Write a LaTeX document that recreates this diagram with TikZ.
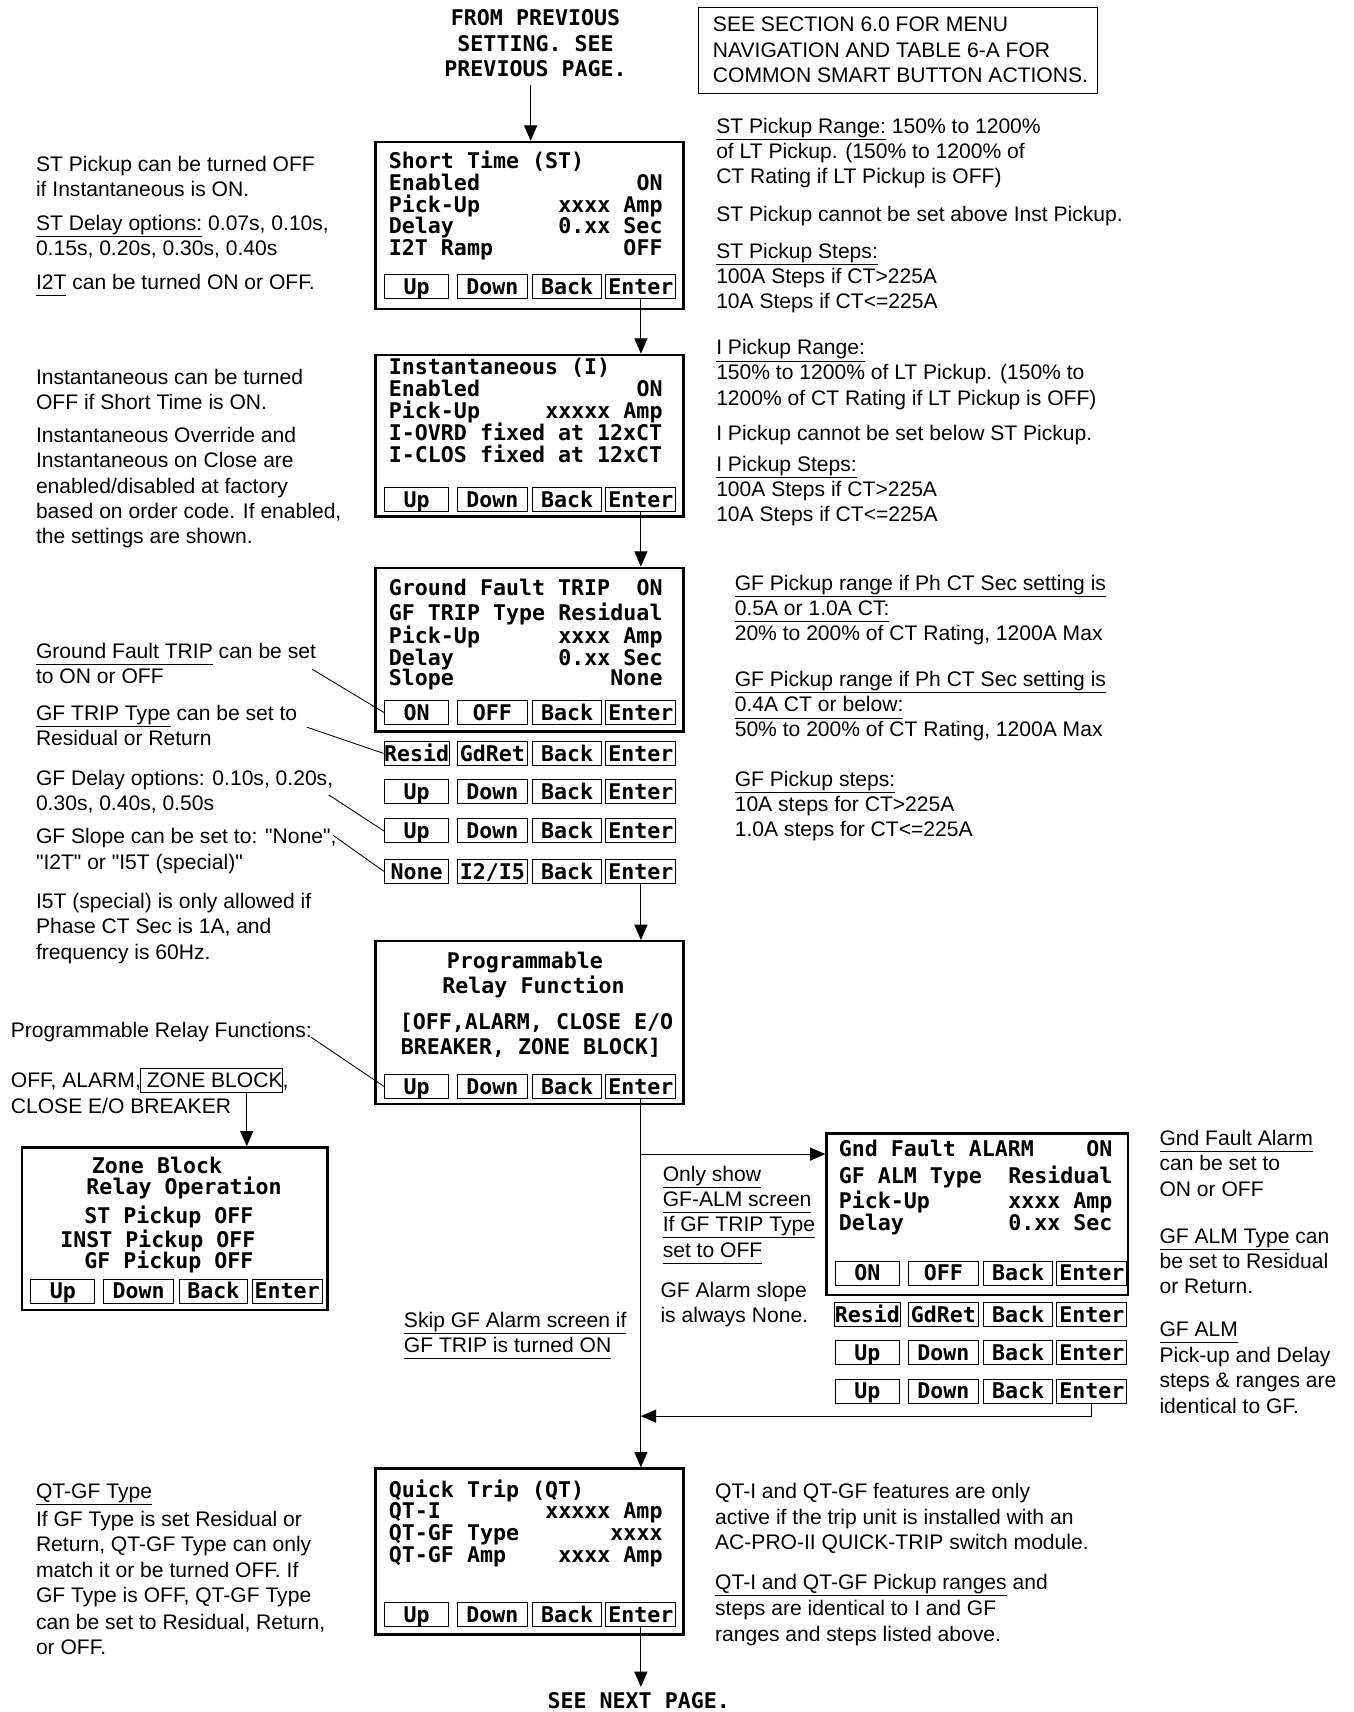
\documentclass[tikz,border=0pt]{standalone}
\usepackage{fontspec}
\newfontfamily\arial{Liberation Sans}
\newfontfamily\lcdf{DejaVu Sans Mono Bold}
\usetikzlibrary{arrows.meta}
\newcommand\undl[1]{\underline{#1\vphantom{gy}}}
\newcommand\tline[4]{\node[txt] (#1) at (#2,#3+7) {#4};}
\newcommand\lcl[4]{\node[lcdt,anchor=base west] (#1) at (#2,#3+7.2) {#4};}
\newcommand\lcr[4]{\node[lcdt,anchor=base east] (#1) at (#2,#3+7.2) {#4};}
\newcommand\btnrow[7]{%
 \node[btn,minimum width=59pt] (#1a) at (#2+37.5,#3) {#4};
 \node[btn,minimum width=64pt] (#1b) at (#2+107,#3) {#5};
 \node[btn,minimum width=63pt] (#1c) at (#2+175.5,#3) {#6};
 \node[btn,minimum width=64pt] (#1d) at (#2+243,#3) {#7};}
\tikzset{
 txt/.style={font=\arial\fontsize{19.3}{23.3}\selectfont, anchor=base west, inner sep=0pt, outer sep=0pt},
 lcdt/.style={font=\lcdf\fontsize{19.8}{23.5}\selectfont, inner sep=0pt},
 btn/.style={draw, line width=0.9pt, inner sep=0pt, minimum height=22pt, text height=15pt, text depth=0.6pt, font=\lcdf\fontsize{19.8}{23.5}\selectfont},
 scr/.style={draw, line width=2.2pt, inner sep=0pt},
 arr/.style={line width=1pt, -{Triangle[width=12pt,length=14pt]}},
 lead/.style={line width=0.8pt}
}
\begin{document}
\begin{tikzpicture}[x=1pt,y=-1pt]
\fill[white] (0,0) rectangle (1240,1568);
\useasboundingbox (0,0) rectangle (1240,1568);

% header
\node[lcdt,anchor=base] (fp1) at (490.5,23.2) {FROM PREVIOUS};
\node[lcdt,anchor=base] (fp2) at (490.5,47.2) {SETTING. SEE};
\node[lcdt,anchor=base] (fp3) at (490.5,70.2) {PREVIOUS PAGE.};
\node[draw,line width=0.8pt,minimum width=365pt,minimum height=79pt,inner sep=0pt] (see) at (822.5,46.5) {};
\tline{se1}{653}{22}{SEE SECTION 6.0 FOR MENU}
\tline{se2}{653}{46}{NAVIGATION AND TABLE 6-A FOR}
\tline{se3}{653}{69}{COMMON SMART BUTTON ACTIONS.}

% ST screen
\node[scr,minimum width=282pt,minimum height=153pt] (st) at (485,206.5) {};
\lcl{st1}{356}{147}{Short Time (ST)}
\lcl{st2l}{356}{167}{Enabled}\lcr{st2r}{607}{167}{ON}
\lcl{st3l}{356}{187}{Pick-Up}\lcr{st3r}{607}{187}{xxxx Amp}
\lcl{st4l}{356}{207}{Delay}\lcr{st4r}{607}{207}{0.xx Sec}
\lcl{st5l}{356}{227}{I2T Ramp}\lcr{st5r}{607}{227}{OFF}
\btnrow{stb}{344}{262.5}{Up}{Down}{Back}{Enter}

% Inst screen
\node[scr,minimum width=282pt,minimum height=148pt] (inst) at (485,399) {};
\lcl{in1}{356}{336}{Instantaneous (I)}
\lcl{in2l}{356}{356}{Enabled}\lcr{in2r}{607}{356}{ON}
\lcl{in3l}{356}{376}{Pick-Up}\lcr{in3r}{607}{376}{xxxxx Amp}
\lcl{in4}{356}{396}{I-OVRD fixed at 12xCT}
\lcl{in5}{356}{416}{I-CLOS fixed at 12xCT}
\btnrow{inb}{344}{457.5}{Up}{Down}{Back}{Enter}

% GF screen
\node[scr,minimum width=282pt,minimum height=150pt] (gf) at (485,595) {};
\lcl{gf1l}{356}{538}{Ground Fault TRIP}\lcr{gf1r}{607}{538}{ON}
\lcl{gf2l}{356}{561}{GF TRIP Type}\lcr{gf2r}{607}{561}{Residual}
\lcl{gf3l}{356}{582}{Pick-Up}\lcr{gf3r}{607}{582}{xxxx Amp}
\lcl{gf4l}{356}{602}{Delay}\lcr{gf4r}{607}{602}{0.xx Sec}
\lcl{gf5l}{356}{621}{Slope}\lcr{gf5r}{607}{621}{None}
\btnrow{gfb}{344}{652.5}{ON}{OFF}{Back}{Enter}
\btnrow{gfr}{344}{690}{Resid}{GdRet}{Back}{Enter}
\btnrow{gfu}{344}{725}{Up}{Down}{Back}{Enter}
\btnrow{gfv}{344}{761}{Up}{Down}{Back}{Enter}
\btnrow{gfs}{344}{798}{None}{I2/I5}{Back}{Enter}

% Programmable relay screen
\node[scr,minimum width=282pt,minimum height=149pt] (prog) at (485,936.5) {};
\lcl{pr1}{409}{880}{Programmable}
\lcl{pr2}{405}{903}{Relay Function}
\lcl{pr3}{366}{936}{[OFF,ALARM, CLOSE E/O}
\lcl{pr4}{367}{959}{BREAKER, ZONE BLOCK]}
\btnrow{prb}{344}{995}{Up}{Down}{Back}{Enter}

% Zone block screen
\node[scr,minimum width=280pt,minimum height=149pt] (zone) at (160,1125.5) {};
\lcl{zn1}{84}{1068}{Zone Block}
\lcl{zn2}{79}{1087}{Relay Operation}
\lcl{zn3}{77}{1113}{ST Pickup OFF}
\lcl{zn4}{55}{1135}{INST Pickup OFF}
\lcl{zn5}{77}{1155}{GF Pickup OFF}
\btnrow{znb}{20}{1182.5}{Up}{Down}{Back}{Enter}

% GF alarm screen
\node[scr,minimum width=276pt,minimum height=148pt] (alm) at (895,1112) {};
\lcl{al1l}{768}{1052}{Gnd Fault ALARM}\lcr{al1r}{1019}{1052}{ON}
\lcl{al2l}{768}{1077}{GF ALM Type}\lcr{al2r}{1019}{1077}{Residual}
\lcl{al3l}{768}{1100}{Pick-Up}\lcr{al3r}{1019}{1100}{xxxx Amp}
\lcl{al4l}{768}{1120}{Delay}\lcr{al4r}{1019}{1120}{0.xx Sec}
\btnrow{alb}{757}{1166}{ON}{OFF}{Back}{Enter}
\btnrow{alr}{757}{1204}{Resid}{GdRet}{Back}{Enter}
\btnrow{alu}{757}{1239}{Up}{Down}{Back}{Enter}
\btnrow{alv}{757}{1274}{Up}{Down}{Back}{Enter}

% QT screen
\node[scr,minimum width=282pt,minimum height=152pt] (qt) at (485,1421) {};
\lcl{qt1}{356}{1364}{Quick Trip (QT)}
\lcl{qt2l}{356}{1384}{QT-I}\lcr{qt2r}{607}{1384}{xxxxx Amp}
\lcl{qt3l}{356}{1404}{QT-GF Type}\lcr{qt3r}{607}{1404}{xxxx}
\lcl{qt4l}{356}{1424}{QT-GF Amp}\lcr{qt4r}{607}{1424}{xxxx Amp}
\btnrow{qtb}{344}{1478.5}{Up}{Down}{Back}{Enter}
\node[lcdt,anchor=base] (nxt) at (585,1565.2) {SEE NEXT PAGE.};

% left notes
\tline{ta1}{33}{150}{ST Pickup can be turned OFF}
\tline{ta2}{33}{173}{if Instantaneous is ON.}
\tline{ta3}{33}{204}{\undl{ST Delay options:} 0.07s, 0.10s,}
\tline{ta4}{33}{227}{0.15s, 0.20s, 0.30s, 0.40s}
\tline{ta5}{33}{258}{\undl{I2T} can be turned ON or OFF.}
\tline{tb1}{33}{345}{Instantaneous can be turned}
\tline{tb2}{33}{368}{OFF if Short Time is ON.}
\tline{tb3}{33}{398}{Instantaneous Override and}
\tline{tb4}{33}{421}{Instantaneous on Close are}
\tline{tb5}{33}{445}{enabled/disabled at factory}
\tline{tb6}{33}{468}{based on order code. If enabled,}
\tline{tb7}{33}{491}{the settings are shown.}
\tline{tc1}{33}{596}{\undl{Ground Fault TRIP} can be set}
\tline{tc2}{33}{619}{to ON or OFF}
\tline{tc3}{33}{653}{\undl{GF TRIP Type} can be set to}
\tline{tc4}{33}{676}{Residual or Return}
\tline{tc5}{33}{712}{GF Delay options: 0.10s, 0.20s,}
\tline{tc6}{33}{735}{0.30s, 0.40s, 0.50s}
\tline{tc7}{33}{766}{GF Slope can be set to: "None",}
\tline{tc8}{33}{789}{"I2T" or "I5T (special)"}
\tline{tc9}{33}{825}{I5T (special) is only allowed if}
\tline{tc10}{33}{848}{Phase CT Sec is 1A, and}
\tline{tc11}{33}{872}{frequency is 60Hz.}
\tline{td1}{10}{943}{Programmable Relay Functions:}
\tline{zl1}{10}{989}{OFF, ALARM,}
\node[txt,draw,line width=0.8pt,text height=17pt,text depth=4pt,inner ysep=0.5pt] (zbk) at (zl1.base east) {\hspace{0.28em}ZONE BLOCK};
\node[txt] (zl3) at (zbk.base east) {,};
\tline{td3}{10}{1013}{CLOSE E/O BREAKER}
\tline{te1}{33}{1365}{\undl{QT-GF Type}}
\tline{te2}{33}{1391}{If GF Type is set Residual or}
\tline{te3}{33}{1414}{Return, QT-GF Type can only}
\tline{te4}{33}{1438}{match it or be turned OFF. If}
\tline{te5}{33}{1461}{GF Type is OFF, QT-GF Type}
\tline{te6}{33}{1485}{can be set to Residual, Return,}
\tline{te7}{33}{1508}{or OFF.}

% right notes
\tline{ra1}{656}{115}{\undl{ST Pickup Range:} 150\% to 1200\%}
\tline{ra2}{656}{138}{of LT Pickup. (150\% to 1200\% of}
\tline{ra3}{656}{161}{CT Rating if LT Pickup is OFF)}
\tline{ra4}{656}{196}{ST Pickup cannot be set above Inst Pickup.}
\tline{ra5}{656}{230}{\undl{ST Pickup Steps:}}
\tline{ra6}{656}{253}{100A Steps if CT>225A}
\tline{ra7}{656}{276}{10A Steps if CT<=225A}
\tline{rb1}{656}{318}{\undl{I Pickup Range:}}
\tline{rb2}{656}{341}{150\% to 1200\% of LT Pickup. (150\% to}
\tline{rb3}{656}{364}{1200\% of CT Rating if LT Pickup is OFF)}
\tline{rb4}{656}{396}{I Pickup cannot be set below ST Pickup.}
\tline{rb5}{656}{425}{\undl{I Pickup Steps:}}
\tline{rb6}{656}{448}{100A Steps if CT>225A}
\tline{rb7}{656}{471}{10A Steps if CT<=225A}
\tline{rc1}{673}{534}{\undl{GF Pickup range if Ph CT Sec setting is}}
\tline{rc2}{673}{557}{\undl{0.5A or 1.0A CT:}}
\tline{rc3}{673}{580}{20\% to 200\% of CT Rating, 1200A Max}
\tline{rc4}{673}{622}{\undl{GF Pickup range if Ph CT Sec setting is}}
\tline{rc5}{673}{645}{\undl{0.4A CT or below:}}
\tline{rc6}{673}{668}{50\% to 200\% of CT Rating, 1200A Max}
\tline{rc7}{673}{713}{\undl{GF Pickup steps:}}
\tline{rc8}{673}{736}{10A steps for CT>225A}
\tline{rc9}{673}{759}{1.0A steps for CT<=225A}

% middle notes
\tline{ma1}{607}{1075}{\undl{Only show}}
\tline{ma2}{607}{1098}{\undl{GF-ALM screen}}
\tline{ma3}{607}{1121}{\undl{If GF TRIP Type}}
\tline{ma4}{607}{1145}{\undl{set to OFF}}
\tline{ma5}{605}{1181}{GF Alarm slope}
\tline{ma6}{605}{1204}{is always None.}
\tline{mb1}{370}{1209}{\undl{Skip GF Alarm screen if}}
\tline{mb2}{370}{1232}{\undl{GF TRIP is turned ON}}

\tline{na1}{1062}{1042}{\undl{Gnd Fault Alarm}}
\tline{na2}{1062}{1065}{can be set to}
\tline{na3}{1062}{1089}{ON or OFF}
\tline{na4}{1062}{1132}{\undl{GF ALM Type} can}
\tline{na5}{1062}{1155}{be set to Residual}
\tline{na6}{1062}{1178}{or Return.}
\tline{na7}{1062}{1217}{\undl{GF ALM}}
\tline{na8}{1062}{1241}{Pick-up and Delay}
\tline{na9}{1062}{1264}{steps \& ranges are}
\tline{na10}{1062}{1288}{identical to GF.}

\tline{qa1}{655}{1365}{QT-I and QT-GF features are only}
\tline{qa2}{655}{1389}{active if the trip unit is installed with an}
\tline{qa3}{655}{1412}{AC-PRO-II QUICK-TRIP switch module.}
\tline{qa4}{655}{1449}{\undl{QT-I and QT-GF Pickup ranges} and}
\tline{qa5}{655}{1473}{steps are identical to I and GF}
\tline{qa6}{655}{1496}{ranges and steps listed above.}

% connectors
\coordinate (fpa) at (486,78);
\draw[arr] (fpa) -- (fpa |- st.north);
\draw[arr] (stbd.south) -- (stbd.south |- inst.north);
\draw[arr] (inbd.south) -- (inbd.south |- gf.north);
\draw[arr] (gfsd.south) -- (gfsd.south |- prog.north);
\draw[arr] (prbd.south) -- (prbd.south |- qt.north);
\coordinate (brk) at (prbd.south |- 0,1057);
\draw[arr] (brk) -- (brk -| alm.west);
\coordinate (ret) at (prbd.south |- 0,1297);
\draw[arr] (alvd.south) |- (ret);
\coordinate (nxa) at (qtbd.south |- 0,1545);
\draw[arr] (qtbd.south) -- (nxa);
\draw[arr] (zbk.south -| 226,0) -- (zone.north -| 226,0);

% leader lines
\coordinate (ld1) at (286,613);
\draw[lead] (ld1) -- (gfba.west);
\coordinate (ld2) at (281,666);
\draw[lead] (ld2) -- (gfra.west);
\coordinate (ld3) at (301,728);
\draw[lead] (ld3) -- (gfva.west);
\coordinate (ld4) at (305,765);
\draw[lead] (ld4) -- (gfsa.west);
\coordinate (ld5) at (285,950);
\draw[lead] (ld5) -- (prba.west);
\end{tikzpicture}
\end{document}
